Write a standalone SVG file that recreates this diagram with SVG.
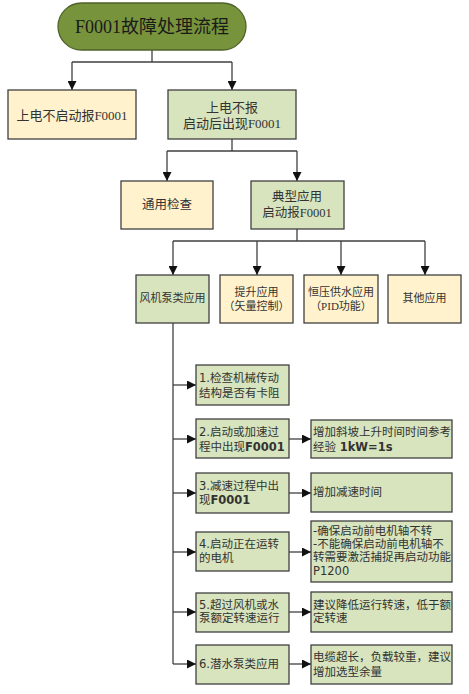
<svg xmlns="http://www.w3.org/2000/svg" width="469" height="694" viewBox="0 0 469 694">
<style>
.y{fill:#fff2cc;stroke:#404040;stroke-width:1.3}
.g{fill:#d7e4bd;stroke:#404040;stroke-width:1.3}
.c{fill:none;stroke:#404040;stroke-width:1.3}
.t{font-family:"Liberation Serif","Noto Sans CJK SC",serif;fill:#333;text-anchor:middle}
.s{font-family:"DejaVu Sans","Noto Sans CJK SC",sans-serif;font-size:11.5px;fill:#333}
.b{font-weight:bold}
</style>
<defs>
<marker id="a" markerUnits="userSpaceOnUse" markerWidth="9" markerHeight="9" refX="9" refY="4.5" orient="auto"><path d="M0,0 L9,4.5 L0,9 z" fill="#111"/></marker>
</defs>
<g id="connectors">
<path class="c" d="M152,50 V62 M72,62 H232"/>
<path class="c" d="M72,62 V90" marker-end="url(#a)"/>
<path class="c" d="M232,62 V90" marker-end="url(#a)"/>
<path class="c" d="M232,139 V151 M167,151 H297"/>
<path class="c" d="M167,151 V181" marker-end="url(#a)"/>
<path class="c" d="M297,151 V181" marker-end="url(#a)"/>
<path class="c" d="M297,229 V241 M173,241 H425"/>
<path class="c" d="M173,241 V275" marker-end="url(#a)"/>
<path class="c" d="M257,241 V275" marker-end="url(#a)"/>
<path class="c" d="M341,241 V275" marker-end="url(#a)"/>
<path class="c" d="M425,241 V275" marker-end="url(#a)"/>
<path class="c" d="M173,323 V664"/>
<path class="c" d="M173,385 H196" marker-end="url(#a)"/>
<path class="c" d="M173,439 H196" marker-end="url(#a)"/>
<path class="c" d="M173,493 H196" marker-end="url(#a)"/>
<path class="c" d="M173,552 H196" marker-end="url(#a)"/>
<path class="c" d="M173,612 H196" marker-end="url(#a)"/>
<path class="c" d="M173,664 H196" marker-end="url(#a)"/>
<path class="c" d="M289,439 H311" marker-end="url(#a)"/>
<path class="c" d="M289,493 H311" marker-end="url(#a)"/>
<path class="c" d="M289,552 H311" marker-end="url(#a)"/>
<path class="c" d="M289,612 H311" marker-end="url(#a)"/>
<path class="c" d="M289,664 H311" marker-end="url(#a)"/>
</g>
<g id="title">
<rect x="58" y="3" width="188" height="47" rx="23.5" fill="#77933c" stroke="#4f6228" stroke-width="1.3"/>
<text class="t" x="152" y="33" font-size="18" style="fill:#1a1a1a">F0001故障处理流程</text>
</g>
<g id="n1">
<rect class="y" x="8" y="90" width="128" height="49"/>
<text class="t" x="72" y="120" font-size="13">上电不启动报F0001</text>
</g>
<g id="n2">
<rect class="g" x="168" y="90" width="128" height="49"/>
<text class="t" x="232" y="112" font-size="13">上电不报</text>
<text class="t" x="232" y="128" font-size="13">启动后出现F0001</text>
</g>
<g id="n3">
<rect class="y" x="121" y="181" width="92" height="48"/>
<text class="t" x="167" y="209" font-size="12.5">通用检查</text>
</g>
<g id="n4">
<rect class="g" x="251" y="181" width="93" height="48"/>
<text class="t" x="297" y="201" font-size="12.5">典型应用</text>
<text class="t" x="297" y="217" font-size="12.5">启动报F0001</text>
</g>
<g id="n5">
<rect class="g" x="136" y="275" width="73" height="48"/>
<text class="t" x="172.5" y="302" font-size="11">风机泵类应用</text>
</g>
<g id="n6">
<rect class="y" x="220" y="275" width="73" height="48"/>
<text class="t" x="256.5" y="296" font-size="11">提升应用</text>
<text class="t" x="256.5" y="310" font-size="11">（矢量控制）</text>
</g>
<g id="n7">
<rect class="y" x="304" y="275" width="74" height="48"/>
<text class="t" x="341" y="296" font-size="11">恒压供水应用</text>
<text class="t" x="341" y="310" font-size="11">（PID功能）</text>
</g>
<g id="n8">
<rect class="y" x="388" y="275" width="73" height="48"/>
<text class="t" x="424.5" y="302" font-size="11">其他应用</text>
</g>
<g id="s1">
<rect class="g" x="196" y="365" width="93" height="40"/>
<text class="s" x="199" y="382">1.检查机械传动</text>
<text class="s" x="199" y="397">结构是否有卡阻</text>
</g>
<g id="s2">
<rect class="g" x="196" y="419" width="93" height="39"/>
<text class="s" x="199" y="436">2.启动或加速过</text>
<text class="s" x="199" y="451">程中出现<tspan class="b">F0001</tspan></text>
</g>
<g id="r2">
<rect class="g" x="311" y="420" width="141" height="38"/>
<text class="s" x="313" y="436">增加斜坡上升时间时间参考</text>
<text class="s" x="313" y="451">经验 <tspan class="b">1kW=1s</tspan></text>
</g>
<g id="s3">
<rect class="g" x="196" y="473" width="93" height="40"/>
<text class="s" x="199" y="490">3.减速过程中出</text>
<text class="s" x="199" y="504">现<tspan class="b">F0001</tspan></text>
</g>
<g id="r3">
<rect class="g" x="311" y="473" width="141" height="39"/>
<text class="s" x="313" y="496">增加减速时间</text>
</g>
<g id="s4">
<rect class="g" x="196" y="532" width="93" height="39"/>
<text class="s" x="199" y="548">4.启动正在运转</text>
<text class="s" x="199" y="562">的电机</text>
</g>
<g id="r4">
<rect class="g" x="311" y="521" width="141" height="61"/>
<text class="s" x="313" y="535">-确保启动前电机轴不转</text>
<text class="s" x="313" y="548">-不能确保启动前电机轴不</text>
<text class="s" x="313" y="561">转需要激活捕捉再启动功能</text>
<text class="s" x="313" y="575">P1200</text>
</g>
<g id="s5">
<rect class="g" x="196" y="593" width="93" height="39"/>
<text class="s" x="199" y="609">5.超过风机或水</text>
<text class="s" x="199" y="622">泵额定转速运行</text>
</g>
<g id="r5">
<rect class="g" x="311" y="592" width="141" height="40"/>
<text class="s" x="313" y="609">建议降低运行转速，低于额</text>
<text class="s" x="313" y="622">定转速</text>
</g>
<g id="s6">
<rect class="g" x="196" y="645" width="93" height="39"/>
<text class="s" x="199" y="668">6.潜水泵类应用</text>
</g>
<g id="r6">
<rect class="g" x="311" y="645" width="141" height="39"/>
<text class="s" x="313" y="661">电缆超长，负载较重，建议</text>
<text class="s" x="313" y="676">增加选型余量</text>
</g>
</svg>
